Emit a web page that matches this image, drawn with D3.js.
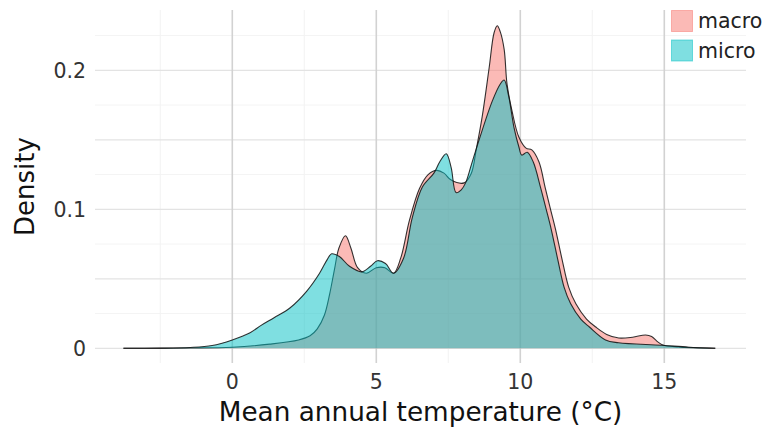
<!DOCTYPE html>
<html>
<head>
<meta charset="utf-8">
<script src="https://cdn.jsdelivr.net/npm/d3@7"></script>
<style>
  html, body { margin: 0; padding: 0; background: #fff; }
  svg { display: block; font-family: "DejaVu Sans", Verdana, sans-serif; }
</style>
</head>
<body>
<svg id="chart" width="771" height="430"></svg>
<script>
// ---- data ----
const seriesNames = ["macro", "micro"];
const seriesFill = ["rgba(248,118,109,0.5)", "rgba(0,191,196,0.5)"];

const macroTemp = [-3.78, -1.5, 0, 1.3, 2.3, 2.7, 2.95, 3.2, 3.38, 3.55, 3.7, 3.93, 4.12, 4.35, 4.65, 5.0, 5.3, 5.6, 5.85, 6.15, 6.5, 6.8, 7.1, 7.35, 7.6, 8.05, 8.3, 8.47, 8.68, 8.92, 9.09, 9.2, 9.3, 9.44, 9.54, 9.71, 9.95, 10.2, 10.4, 10.65, 10.86, 11.05, 11.22, 11.45, 11.68, 11.93, 12.3, 12.62, 13.0, 13.42, 13.9, 14.35, 14.56, 14.75, 14.95, 15.5, 16.77];
const macroDensity = [0, 0.0002, 0.0008, 0.003, 0.006, 0.009, 0.014, 0.024, 0.039, 0.057, 0.072, 0.081, 0.072, 0.058, 0.054, 0.058, 0.058, 0.054, 0.065, 0.092, 0.115, 0.125, 0.128, 0.126, 0.121, 0.119, 0.126, 0.143, 0.167, 0.202, 0.227, 0.232, 0.228, 0.215, 0.19, 0.171, 0.152, 0.144, 0.1427, 0.134, 0.116, 0.1, 0.086, 0.064, 0.044, 0.032, 0.021, 0.0153, 0.01, 0.0074, 0.008, 0.0096, 0.0085, 0.005, 0.0024, 0.001, 0];

const microTemp = [-3.78, -2.5, -1.46, -0.7, 0, 0.6, 1.0, 1.45, 2.0, 2.58, 3.03, 3.3, 3.45, 3.72, 4.07, 4.5, 4.8, 5.04, 5.32, 5.6, 5.95, 6.25, 6.6, 7.0, 7.2, 7.43, 7.6, 7.77, 7.95, 8.1, 8.3, 8.57, 9.03, 9.3, 9.44, 9.6, 9.78, 9.95, 10.05, 10.24, 10.45, 10.7, 10.9, 11.07, 11.3, 11.52, 11.75, 12.1, 12.4, 12.96, 13.41, 14.9, 15.84, 16.77];
const microDensity = [0, 0.0001, 0.0006, 0.002, 0.006, 0.011, 0.0165, 0.022, 0.029, 0.041, 0.054, 0.064, 0.068, 0.066, 0.059, 0.055, 0.059, 0.063, 0.061, 0.054, 0.065, 0.094, 0.116, 0.126, 0.134, 0.140, 0.130, 0.112, 0.114, 0.119, 0.132, 0.150, 0.178, 0.19, 0.193, 0.181, 0.159, 0.145, 0.139, 0.141, 0.134, 0.116, 0.1, 0.086, 0.064, 0.044, 0.032, 0.021, 0.0153, 0.006, 0.004, 0.0022, 0.0008, 0];

const xTicks = [0, 5, 10, 15];
const xMinor = [-2.5, 2.5, 7.5, 12.5];
const yTicks = [0, 0.1, 0.2];
const yMid = [0.05, 0.15];
const yFaint = [0.025, 0.075, 0.125, 0.175, 0.225];

// ---- layout ----
const svg = d3.select("#chart");
const panel = { left: 95, right: 746, top: 10, bottom: 363 };
const x = d3.scaleLinear().domain([-4.767, 17.837]).range([panel.left, panel.right]);
const y = d3.scaleLinear().domain([-0.01058, 0.24338]).range([panel.bottom, panel.top]);

const g = svg.append("g");

// faint grid
g.selectAll(".yf").data(yFaint).join("line")
  .attr("x1", panel.left).attr("x2", panel.right)
  .attr("y1", d => y(d)).attr("y2", d => y(d))
  .attr("stroke", "#f4f4f4").attr("stroke-width", 1);
g.selectAll(".xm").data(xMinor).join("line")
  .attr("x1", d => x(d)).attr("x2", d => x(d))
  .attr("y1", panel.top).attr("y2", panel.bottom)
  .attr("stroke", "#f2f2f2").attr("stroke-width", 1);
// horizontal grid
g.selectAll(".ym").data(yMid.concat(yTicks)).join("line")
  .attr("x1", panel.left).attr("x2", panel.right)
  .attr("y1", d => y(d)).attr("y2", d => y(d))
  .attr("stroke", "#e3e3e3").attr("stroke-width", 1.3);
// vertical major grid
g.selectAll(".xg").data(xTicks).join("line")
  .attr("x1", d => x(d)).attr("x2", d => x(d))
  .attr("y1", panel.top).attr("y2", panel.bottom)
  .attr("stroke", "#d2d2d2").attr("stroke-width", 1.6);

// ---- densities ----
const data = [
  macroTemp.map((t, i) => [t, macroDensity[i]]),
  microTemp.map((t, i) => [t, microDensity[i]])
];
const curve = d3.curveCatmullRom.alpha(0.5);
const area = d3.area().x(d => x(d[0])).y0(y(0)).y1(d => y(Math.max(0, d[1]))).curve(curve);
const line = d3.line().x(d => x(d[0])).y(d => y(d[1])).curve(curve);

data.forEach((pts, i) => {
  g.append("path").attr("d", area(pts)).attr("fill", seriesFill[i]).attr("stroke", "none");
  g.append("path").attr("d", line(pts)).attr("fill", "none")
    .attr("stroke", "#111").attr("stroke-opacity", 0.85).attr("stroke-width", 1.1);
});

// ---- axes labels ----
g.selectAll(".xt").data(xTicks).join("text")
  .attr("x", d => x(d)).attr("y", 389)
  .attr("text-anchor", "middle").attr("font-size", 20.5).attr("fill", "#333")
  .text(d => d);
g.selectAll(".yt").data(yTicks).join("text")
  .attr("x", 86).attr("y", d => y(d) + 7.5)
  .attr("text-anchor", "end").attr("font-size", 20.5).attr("fill", "#333")
  .text(d => d === 0 ? "0" : d3.format(".1f")(d));

svg.append("text")
  .attr("x", (panel.left + panel.right) / 2).attr("y", 421)
  .attr("text-anchor", "middle").attr("font-size", 26.3).attr("fill", "#111")
  .text("Mean annual temperature (°C)");
svg.append("text")
  .attr("transform", `translate(34,${(panel.top + panel.bottom) / 2}) rotate(-90)`)
  .attr("text-anchor", "middle").attr("font-size", 26).attr("fill", "#111")
  .text("Density");

// ---- legend ----
const legend = svg.append("g");
seriesNames.forEach((name, i) => {
  const ly = 10 + i * 29.5;
  legend.append("rect").attr("x", 671.5).attr("y", ly + 0.5).attr("width", 21).attr("height", 21)
    .attr("fill", seriesFill[i]).attr("stroke", seriesFill[i]).attr("stroke-width", 1);
  legend.append("text").attr("x", 698).attr("y", ly + 18)
    .attr("font-size", 20.5).attr("fill", "#222").text(name);
});
</script>
</body>
</html>
